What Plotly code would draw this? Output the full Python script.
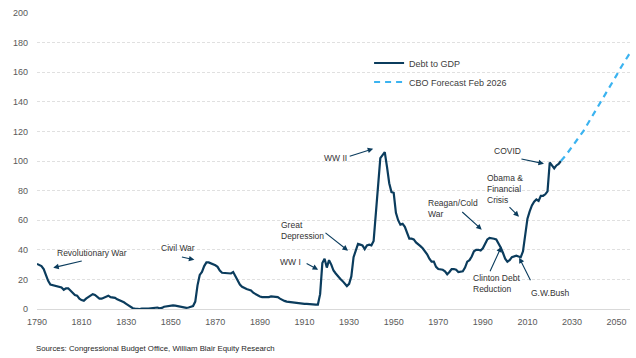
import plotly.graph_objects as go

# ---- data ----
hist_years = list(range(1790, 2026))
hist_values = [
    30.5, 29.5, 29, 27, 23, 19, 16.5, 16, 16, 15.5,          # 1790-1799
    15, 14.5, 13, 14, 14, 12.5, 10.5, 9.5, 9, 7,            # 1800-1809
    6, 5.5, 7, 8, 9, 10, 9.5, 8, 7, 7,                      # 1810-1819
    7.5, 8.5, 9, 8, 8, 7.5, 6.5, 6, 5.5, 4.5,               # 1820-1829
    3.5, 2.5, 1, 0.5, 0.3, 0, 0, 0.2, 0.5, 0.3,             # 1830-1839
    0.3, 0.5, 1, 1.2, 1, 0.5, 0.7, 1.5, 1.8, 2.2,           # 1840-1849
    2.5, 2.5, 2.3, 2, 1.5, 1.2, 1, 0.8, 1, 1.5,             # 1850-1859
    2, 5, 16, 23, 25, 29, 31.5, 31.5, 31, 30,               # 1860-1869
    29.5, 28.5, 26, 24.5, 24.5, 24, 24.5, 24, 25, 22,       # 1870-1879
    19, 16.5, 15, 14, 13.5, 13, 12.5, 11, 10, 9,            # 1880-1889
    8.5, 8, 8, 7.5, 8, 8.5, 8.5, 8.5, 8, 7,                 # 1890-1899
    6, 5.5, 5, 4.8, 4.5, 4.3, 4, 4, 4, 3.8,                 # 1900-1909
    3.5, 3.5, 3.3, 3.2, 3.2, 3, 3, 10, 31, 34,              # 1910-1919
    28, 33, 30, 26, 24, 22, 20.5, 19, 17.5, 15.5,           # 1920-1929
    17, 22, 35, 40, 44, 43.5, 43, 40.5, 43, 43.5,           # 1930-1939
    43, 46, 63, 83, 102, 104, 106, 96, 85, 79,              # 1940-1949
    78.5, 65, 60, 57, 57.5, 55.5, 51, 47.5, 47.5, 47,       # 1950-1959
    45, 44, 42.5, 41, 39, 37, 34, 32, 32, 28.5,             # 1960-1969
    27, 27, 26.5, 25.5, 23.5, 25, 27, 27, 26.5, 25,         # 1970-1979
    25.5, 25.5, 28, 32, 33, 35.5, 39, 40, 40, 39.5,         # 1980-1989
    41, 44.5, 47, 48, 48, 47.5, 47, 44.5, 41.5, 38,         # 1990-1999
    34, 32, 33, 35, 35.5, 36, 35.5, 35, 39, 52,             # 2000-2009
    61, 66, 70, 72.5, 74, 73, 76.5, 76.5, 77.5, 79.5,       # 2010-2019
    99, 97, 95, 97, 98, 100,                                # 2020-2025
]
fc_years = list(range(2025, 2057))
fc_values = [
    100, 101.5, 103.5, 105.5, 107.5, 109.5, 111.5, 113.5, 115.5, 118,
    120, 122.5, 125, 127.5, 130, 132.5, 135, 137.5, 140, 142.5,
    145, 147.5, 150, 152.5, 155, 158, 161, 163.5, 166, 168.5,
    171, 173,
]
x_ticks = list(range(1790, 2051, 20))
y_ticks = list(range(0, 201, 20))

# annotations: (text, text_x, text_y, tip_x, tip_y, ax, ay)
notes = [
    ("Revolutionary War", 1798.2, 38.0, 1797.3, 27.9, 30, -7),
    ("Civil War", 1844.8, 41.4, 1860.6, 33.3, -14, -3),
    ("WW I", 1898.2, 32.0, 1916.1, 26.6, -13, -7),
    ("Great<br>Depression", 1898.7, 53.2, 1929.5, 39.4, -24, -19),
    ("WW II", 1917.9, 102.2, 1940.8, 108.3, -25, 8),
    ("Reagan/Cold<br>War", 1964.5, 68.1, 1989.5, 53.6, -21, -19),
    ("Clinton Debt<br>Reduction", 1984.7, 17.1, 1998.3, 42.1, -12, 26),
    ("G.W.Bush", 2010.7, 11.0, 2006.3, 34.7, 12, 24),
    ("Obama &<br>Financial<br>Crisis", 1991.0, 80.9, 2006.2, 62.4, -11, -11),
    ("COVID", 1994.1, 107.0, 2017.4, 98.2, -24, -5),
]

FONT = "Liberation Sans, Arial, sans-serif"
NAVY = "#0b3c5d"
SKY = "#3bb3f0"

fig = go.Figure()
fig.add_trace(go.Scatter(x=hist_years, y=hist_values, mode="lines", name="Debt to GDP",
                         line=dict(color=NAVY, width=2.2)))
fig.add_trace(go.Scatter(x=fc_years, y=fc_values, mode="lines", name="CBO Forecast Feb 2026",
                         line=dict(color=SKY, width=2.2, dash="6px,5px")))

anns = []
for text, tx, ty, px, py, ax, ay in notes:
    anns.append(dict(x=tx, y=ty, xref="x", yref="y", text=text, showarrow=False,
                     xanchor="left", yanchor="middle", align="left",
                     font=dict(family=FONT, size=8.5, color="#333333")))
    anns.append(dict(x=px, y=py, xref="x", yref="y", text="", showarrow=True,
                     ax=ax, ay=ay, axref="pixel", ayref="pixel",
                     arrowhead=2, arrowsize=1, arrowwidth=1.1, arrowcolor=NAVY))
anns.append(dict(x=-0.005, y=-0.134, xref="paper", yref="paper",
                 text="Sources: Congressional Budget Office, William Blair Equity Research",
                 showarrow=False, xanchor="left", yanchor="middle",
                 font=dict(family=FONT, size=7.8, color="#262626")))

fig.update_layout(
    width=636, height=358,
    margin=dict(l=37, r=6, t=13, b=49),
    paper_bgcolor="white", plot_bgcolor="white",
    font=dict(family=FONT, size=9, color="#595959"),
    showlegend=True,
    legend=dict(x=0.560, y=0.880, xanchor="left", yanchor="top",
                bgcolor="rgba(0,0,0,0)", font=dict(family=FONT, size=9, color="#404040"),
                tracegroupgap=0, itemwidth=30),
    annotations=anns,
    xaxis=dict(range=[1790, 2056], tickvals=x_ticks, ticktext=[str(v) for v in x_ticks],
               showgrid=False, zeroline=False, showline=True, linecolor="#d9d9d9",
               linewidth=1, ticks="", ticklabelstandoff=4,
               tickfont=dict(family=FONT, size=9, color="#595959")),
    yaxis=dict(range=[0, 200], tickvals=y_ticks, showgrid=True, gridcolor="#e0e0e0",
               griddash="3px,2px", gridwidth=1, zeroline=False, ticks="",
               ticklabelstandoff=8,
               tickfont=dict(family=FONT, size=9, color="#595959")),
)

fig.write_html("out.html")
